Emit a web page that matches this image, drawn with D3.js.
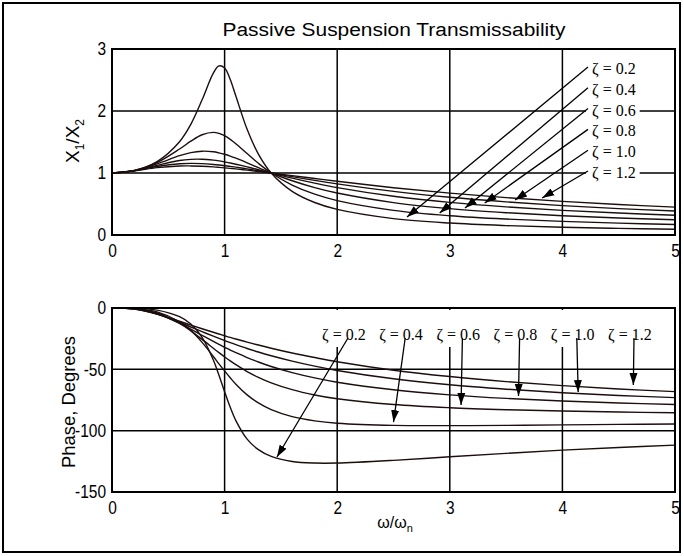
<!DOCTYPE html>
<html>
<head>
<meta charset="utf-8">
<script src="https://cdn.jsdelivr.net/npm/d3@7"></script>
<style>
  body { margin: 0; background: #fff; }
  text { font-family: "Liberation Sans", Arial, sans-serif; }
  .zeta { font-family: "Liberation Serif", "Times New Roman", serif; font-size: 16px; }
</style>
</head>
<body>
<div id="main"></div>
<script>
// frequency ratio w/wn
var ratio = [0, 0.2, 0.4, 0.6, 0.7, 0.8, 0.9, 0.95, 1.0, 1.05, 1.1, 1.2, 1.3, 1.414, 1.6, 1.8, 2.0, 2.5, 3.0, 3.5, 4.0, 4.5, 5.0];
var zetas = ["0.2", "0.4", "0.6", "0.8", "1.0", "1.2"];

// X1/X2 for each damping ratio
var mag02 = [1, 1.041, 1.184, 1.505, 1.785, 2.180, 2.611, 2.727, 2.693, 2.509, 2.241, 1.704, 1.305, 1.0, 0.704, 0.524, 0.413, 0.265, 0.193, 0.152, 0.125, 0.107, 0.093];
var mag04 = [1, 1.041, 1.168, 1.387, 1.513, 1.617, 1.655, 1.639, 1.601, 1.543, 1.472, 1.313, 1.156, 1.0, 0.805, 0.658, 0.555, 0.398, 0.311, 0.257, 0.219, 0.191, 0.170];
var mag06 = [1, 1.039, 1.147, 1.279, 1.329, 1.352, 1.342, 1.325, 1.302, 1.273, 1.239, 1.164, 1.086, 1.0, 0.875, 0.765, 0.677, 0.523, 0.426, 0.360, 0.311, 0.275, 0.246];
var mag08 = [1, 1.038, 1.124, 1.202, 1.220, 1.222, 1.207, 1.195, 1.179, 1.162, 1.142, 1.099, 1.053, 1.0, 0.917, 0.836, 0.764, 0.625, 0.526, 0.453, 0.397, 0.354, 0.319];
var mag10 = [1, 1.036, 1.104, 1.149, 1.155, 1.151, 1.138, 1.129, 1.118, 1.106, 1.094, 1.066, 1.036, 1.0, 0.942, 0.881, 0.825, 0.703, 0.608, 0.534, 0.474, 0.426, 0.387];
var mag12 = [1, 1.034, 1.087, 1.113, 1.114, 1.108, 1.098, 1.091, 1.083, 1.075, 1.066, 1.046, 1.025, 1.0, 0.957, 0.911, 0.866, 0.763, 0.675, 0.603, 0.542, 0.491, 0.449];

// phase in degrees
var ph02 = [0, -0.2, -1.7, -7.1, -13.1, -23.9, -42.4, -54.8, -68.2, -80.9, -91.8, -106.9, -115.5, -121.0, -125.1, -126.4, -126.4, -124.2, -121.3, -118.5, -115.9, -113.7, -111.8];
var ph04 = [0, -0.4, -3.1, -11.2, -18.4, -28.0, -39.5, -45.5, -51.3, -56.9, -62.1, -70.8, -77.4, -82.9, -88.6, -92.0, -93.9, -95.7, -95.9, -95.7, -95.3, -94.9, -94.6];
var ph06 = [0, -0.5, -4.1, -12.6, -18.7, -25.6, -32.8, -36.4, -39.8, -43.1, -46.2, -51.8, -56.5, -61.0, -66.6, -70.9, -74.0, -78.7, -81.3, -82.9, -84.0, -84.8, -85.4];
var ph08 = [0, -0.7, -4.7, -12.5, -17.3, -22.3, -27.3, -29.7, -32.0, -34.3, -36.4, -40.4, -44.0, -47.7, -52.7, -57.0, -60.5, -66.7, -70.8, -73.7, -75.8, -77.4, -78.7];
var ph10 = [0, -0.8, -4.9, -11.7, -15.5, -19.3, -23.0, -24.8, -26.6, -28.3, -29.9, -33.0, -35.9, -38.9, -43.3, -47.4, -50.9, -57.7, -62.6, -66.2, -69.1, -71.3, -73.1];
var ph12 = [0, -0.9, -5.0, -10.8, -13.9, -16.9, -19.8, -21.2, -22.6, -24.0, -25.3, -27.8, -30.2, -32.8, -36.7, -40.4, -43.8, -50.7, -55.9, -60.0, -63.3, -66.0, -68.2];

var magSeries = [mag02, mag04, mag06, mag08, mag10, mag12];
var phSeries = [ph02, ph04, ph06, ph08, ph10, ph12];

// where the arrows point (w/wn, value)
var magArrowX = [2.62, 2.91, 3.135, 3.31, 3.58, 3.82];
var magArrowY = [0.29, 0.355, 0.435, 0.516, 0.565, 0.597];
var phArrowX = [1.465, 2.50, 3.10, 3.61, 4.14, 4.63];
var phArrowY = [-121.5, -93, -79, -71.7, -68.5, -62.8];

var xTicks = [0, 1, 2, 3, 4, 5];
var magTicks = [0, 1, 2, 3];
var phTicks = [0, -50, -100, -150];

var W = 684, H = 556;
var ink = "#1c0e0e";

var svg = d3.select("#main")
    .append("svg")
    .attr("width", W)
    .attr("height", H);

svg.append("rect")
    .attr("x", 3).attr("y", 3)
    .attr("width", 677).attr("height", 549)
    .attr("fill", "#fff")
    .attr("stroke", "#000")
    .attr("stroke-width", 2);

svg.append("defs").append("marker")
    .attr("id", "head")
    .attr("viewBox", "0 -5 12 10")
    .attr("refX", 12).attr("refY", 0)
    .attr("markerUnits", "userSpaceOnUse")
    .attr("markerWidth", 12).attr("markerHeight", 10)
    .attr("orient", "auto")
    .append("path")
    .attr("d", "M0,-4L12,0L0,4Z")
    .attr("fill", "#000");

var x = d3.scaleLinear().domain([0, 5]).range([112, 675]);
var yMag = d3.scaleLinear().domain([0, 3]).range([235, 49]);
var yPh = d3.scaleLinear().domain([-150, 0]).range([492, 308]);

svg.append("text")
    .attr("x", 394).attr("y", 36)
    .attr("text-anchor", "middle")
    .attr("font-size", 18)
    .attr("textLength", 343)
    .attr("lengthAdjust", "spacingAndGlyphs")
    .text("Passive Suspension Transmissability");

function panel(y, yTicks, series) {
    var g = svg.append("g");
    var y0 = y.range()[0], y1 = y.range()[1];

    // grid
    g.selectAll("line.vg")
        .data(xTicks.slice(1, -1))
        .enter().append("line")
        .attr("x1", function(d) { return x(d); })
        .attr("x2", function(d) { return x(d); })
        .attr("y1", y0).attr("y2", y1)
        .attr("stroke", "#000").attr("stroke-width", 1.5);
    g.selectAll("line.hg")
        .data(yTicks.slice(1, -1))
        .enter().append("line")
        .attr("x1", x(0)).attr("x2", x(5))
        .attr("y1", function(d) { return y(d); })
        .attr("y2", function(d) { return y(d); })
        .attr("stroke", "#000").attr("stroke-width", 1.5);

    // tick labels, a little narrower than the stock face
    var xa = g.append("g")
        .attr("transform", "translate(0," + y0 + ")")
        .call(d3.axisBottom(x).tickValues(xTicks).tickSize(0).tickPadding(9).tickFormat(String));
    var ya = g.append("g")
        .attr("transform", "translate(" + x(0) + ",0)")
        .call(d3.axisLeft(y).tickValues(yTicks).tickSize(0).tickPadding(6).tickFormat(String));
    [xa, ya].forEach(function(a) {
        a.select(".domain").remove();
        a.selectAll("text")
            .attr("font-size", 18)
            .attr("font-family", "Liberation Sans, Arial, sans-serif")
            .attr("fill", "#000")
            .each(function() {
                var w = this.getComputedTextLength();
                d3.select(this).attr("textLength", w * 0.86).attr("lengthAdjust", "spacingAndGlyphs");
            });
    });

    var line = d3.line()
        .x(function(d, i) { return x(ratio[i]); })
        .y(function(d) { return y(d); })
        .curve(d3.curveCatmullRom.alpha(0.5));

    g.selectAll("path.curve")
        .data(series)
        .enter().append("path")
        .attr("class", "curve")
        .attr("d", line)
        .attr("fill", "none")
        .attr("stroke", ink)
        .attr("stroke-width", 1.4);

    g.append("rect")
        .attr("x", x(0)).attr("y", y1)
        .attr("width", x(5) - x(0)).attr("height", y0 - y1)
        .attr("fill", "none")
        .attr("stroke", "#000")
        .attr("stroke-width", 2);
    return g;
}

var gTop = panel(yMag, magTicks, magSeries);
var gBot = panel(yPh, phTicks, phSeries);

// axis titles
var yt1 = svg.append("text")
    .attr("transform", "translate(79,141) rotate(-90)")
    .attr("text-anchor", "middle")
    .attr("font-size", 19);
yt1.append("tspan").text("X");
yt1.append("tspan").attr("font-size", 12).attr("dy", 5).text("1");
yt1.append("tspan").attr("dy", -5).text("/X");
yt1.append("tspan").attr("font-size", 12).attr("dy", 5).text("2");

svg.append("text")
    .attr("transform", "translate(75,402) rotate(-90)")
    .attr("text-anchor", "middle")
    .attr("font-size", 19)
    .attr("textLength", 132)
    .attr("lengthAdjust", "spacingAndGlyphs")
    .text("Phase, Degrees");

var xt = svg.append("text")
    .attr("x", 395).attr("y", 528)
    .attr("text-anchor", "middle")
    .attr("font-size", 16);
xt.append("tspan").text("\u03c9/\u03c9");
xt.append("tspan").attr("font-size", 11).attr("dy", 4).text("n");

// top annotations: stacked labels at right with long arrows
zetas.forEach(function(z, i) {
    var cy = 69 + i * 20.8;
    var t = gTop.append("text")
        .attr("class", "zeta")
        .attr("x", 592).attr("y", cy + 5)
        .text("\u03b6 = " + z);
    var bb = t.node().getBBox();
    gTop.insert("rect", "text.zeta")
        .attr("x", bb.x - 6).attr("y", bb.y + 2)
        .attr("width", bb.width + 10).attr("height", bb.height - 4)
        .attr("fill", "#fff");
    gTop.append("line")
        .attr("x1", 588).attr("y1", cy - 2)
        .attr("x2", x(magArrowX[i])).attr("y2", yMag(magArrowY[i]))
        .attr("stroke", "#000").attr("stroke-width", 1.3)
        .attr("marker-end", "url(#head)");
});

// bottom annotations: labels in a row with downward arrows
zetas.forEach(function(z, i) {
    var lx = 322 + i * 57.2;
    var t = gBot.append("text")
        .attr("class", "zeta")
        .attr("x", lx).attr("y", 340)
        .text("\u03b6 = " + z);
    var bb = t.node().getBBox();
    gBot.insert("rect", "text.zeta")
        .attr("x", bb.x - 2).attr("y", 310)
        .attr("width", bb.width + 4).attr("height", 347 - 310)
        .attr("fill", "#fff");
    gBot.append("line")
        .attr("x1", lx + 26).attr("y1", 338)
        .attr("x2", x(phArrowX[i])).attr("y2", yPh(phArrowY[i]))
        .attr("stroke", "#000").attr("stroke-width", 1.3)
        .attr("marker-end", "url(#head)");
});
</script>
</body>
</html>
